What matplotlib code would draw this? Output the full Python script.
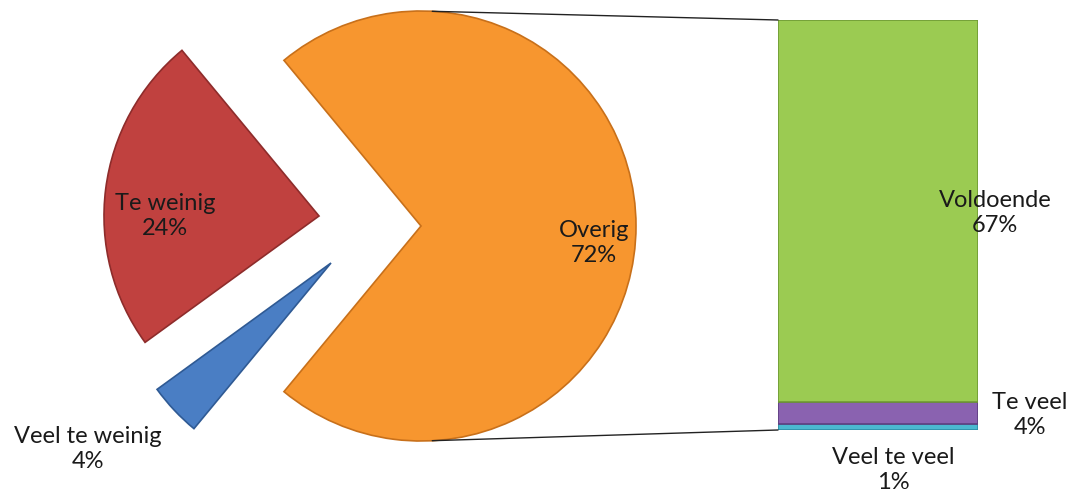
import numpy as np
import matplotlib.pyplot as plt
from matplotlib.patches import ConnectionPatch

# pie part
pie_labels = ['Overig', 'Te weinig', 'Veel te weinig']
pie_values = [72, 24, 4]
pie_colors = ['#F7962F', '#C0413F', '#4A7EC4']
pie_edges = ['#C8701A', '#8E2C2B', '#2F5A94']

# bar part (breakdown of "Overig")
bar_labels = ['Veel te veel', 'Te veel', 'Voldoende']
bar_values = [1, 4, 67]
bar_colors = ['#4BB8D0', '#8A62B0', '#9BCB52']
bar_edges = ['#2E8FA6', '#5E3F80', '#6F9A35']

W, H = 1072, 497
fig = plt.figure(figsize=(W / 100, H / 100), dpi=100)

# main axes in pixel units (y up)
ax = fig.add_axes([0, 0, 1, 1])

cx, cy, r = 421, H - 226, 215
start = -pie_values[0] / 100 * 360 / 2
wedges, _ = ax.pie(pie_values, colors=pie_colors, startangle=start,
                   counterclock=True, radius=r, center=(cx, cy),
                   wedgeprops=dict(linewidth=1.2), frame=True)
ax.set_xlim(0, W)
ax.set_ylim(0, H)
ax.set_aspect('equal')
ax.axis('off')

# exploded slices (pixel offsets of the apex)
offsets = [(0, 0), (-102, 10), (-90, -37)]
for w, ec, (dx, dy) in zip(wedges, pie_edges, offsets):
    w.set_edgecolor(ec)
    w.set_center((cx + dx, cy + dy))

font = 'Lato'
fs = 17
tcol = '#1a1a1a'
ls = 1.2


def label(x, y, s):
    fig.text(x / W, 1 - y / H, s, ha='center', va='center', fontsize=fs,
             family=font, color=tcol, linespacing=ls)


label(165, 216, 'Te weinig\n24%')
label(594, 243, 'Overig\n72%')
label(88, 449, 'Veel te weinig\n4%')

# bar axes
bx0, by_top, by_bot, bw = 778, 20, 430, 200
bax = fig.add_axes([bx0 / W, (H - by_bot) / H, bw / W, (by_bot - by_top) / H])
bottom = 0
for v, c, ec in zip(bar_values, bar_colors, bar_edges):
    bax.bar(0, v, bottom=bottom, width=1, color=c, edgecolor=ec, linewidth=1.2)
    bottom += v
bax.set_xlim(-0.5, 0.5)
bax.set_ylim(0, sum(bar_values))
bax.axis('off')

label(995, 213, 'Voldoende\n67%')
label(1030, 415, 'Te veel\n4%')
label(893, 470, 'Veel te veel\n1%')

# connector lines from the "Overig" slice to the bar
for ang, ybar in [(87, sum(bar_values)), (-87, 0)]:
    px = cx + r * np.cos(np.radians(ang))
    py = cy + r * np.sin(np.radians(ang))
    con = ConnectionPatch(xyA=(px, py), coordsA=ax.transData,
                          xyB=(-0.5, ybar), coordsB=bax.transData,
                          color='#222222', linewidth=1)
    fig.add_artist(con)

fig.savefig('out.png', dpi=100)
